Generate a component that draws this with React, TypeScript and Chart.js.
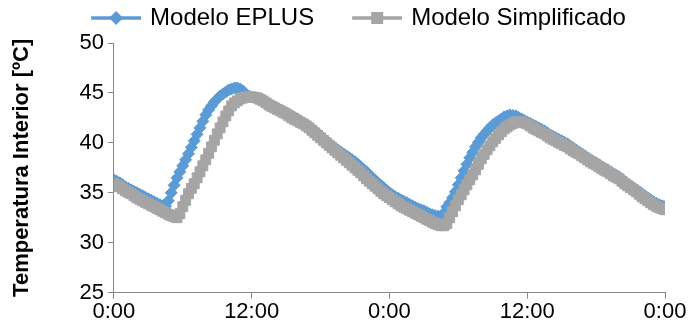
import React, { useEffect, useRef } from 'react';
import { Chart, registerables } from 'chart.js';

Chart.register(...registerables);

// Quarter-hourly samples over 48 h (0:00 .. 0:00 two days later)
const seriesNames = ['Modelo EPLUS', 'Modelo Simplificado'];

const eplus = [
  36.3, 36.15, 36.0, 35.8,
  35.6, 35.45, 35.3, 35.15,
  35.0, 34.85, 34.7, 34.55,
  34.4, 34.25, 34.1, 33.95,
  33.8, 33.7, 33.65, 34.2,
  35.0, 35.75, 36.5, 37.1,
  37.7, 38.3, 38.9, 39.55,
  40.2, 40.85, 41.5, 42.15,
  42.8, 43.3, 43.7, 44.1,
  44.4, 44.7, 44.9, 45.1,
  45.3, 45.4, 45.5, 45.5,
  45.4, 45.2, 44.9, 44.7,
  44.6, 44.55, 44.5, 44.4,
  44.3, 44.1, 43.9, 43.75,
  43.6, 43.45, 43.3, 43.15,
  43.0, 42.85, 42.7, 42.55,
  42.4, 42.2, 42.0, 41.8,
  41.6, 41.4, 41.2, 40.95,
  40.7, 40.45, 40.2, 39.95,
  39.7, 39.5, 39.3, 39.1,
  38.9, 38.7, 38.5, 38.3,
  38.1, 37.85, 37.6, 37.35,
  37.1, 36.8, 36.5, 36.25,
  36.0, 35.75, 35.5, 35.25,
  35.0, 34.8, 34.6, 34.45,
  34.3, 34.15, 34.0, 33.85,
  33.7, 33.55, 33.4, 33.3,
  33.2, 33.05, 32.9, 32.8,
  32.7, 32.65, 32.6, 33.0,
  33.6, 34.0, 34.5, 35.1,
  35.8, 36.5, 37.2, 37.85,
  38.5, 39.05, 39.6, 40.05,
  40.5, 40.85, 41.2, 41.5,
  41.8, 42.0, 42.2, 42.4,
  42.6, 42.7, 42.8, 42.75,
  42.7, 42.55, 42.4, 42.25,
  42.1, 41.95, 41.8, 41.65,
  41.5, 41.35, 41.2, 41.0,
  40.8, 40.65, 40.5, 40.35,
  40.2, 40.05, 39.9, 39.7,
  39.5, 39.3, 39.1, 38.9,
  38.7, 38.5, 38.3, 38.15,
  38.0, 37.8, 37.6, 37.45,
  37.3, 37.1, 36.9, 36.75,
  36.6, 36.35, 36.1, 35.9,
  35.7, 35.5, 35.3, 35.1,
  34.9, 34.7, 34.5, 34.3,
  34.1, 33.95, 33.8, 33.7,
  33.6,
];

const simplificado = [
  35.9, 35.75, 35.6, 35.4,
  35.2, 35.05, 34.9, 34.7,
  34.5, 34.35, 34.2, 34.05,
  33.9, 33.75, 33.6, 33.45,
  33.3, 33.15, 33.0, 32.85,
  32.7, 32.6, 32.5, 32.9,
  33.6, 34.25, 34.9, 35.45,
  35.9, 36.5, 37.1, 37.7,
  38.3, 38.95, 39.6, 40.25,
  40.9, 41.5, 42.1, 42.7,
  43.2, 43.7, 44.0, 44.2,
  44.4, 44.5, 44.6, 44.6,
  44.6, 44.55, 44.5, 44.35,
  44.2, 44.0, 43.8, 43.65,
  43.5, 43.35, 43.2, 43.05,
  42.9, 42.7, 42.5, 42.35,
  42.2, 42.05, 41.9, 41.7,
  41.5, 41.25, 41.0, 40.75,
  40.5, 40.25, 40.0, 39.75,
  39.5, 39.25, 39.0, 38.75,
  38.5, 38.25, 38.0, 37.75,
  37.5, 37.25, 37.0, 36.7,
  36.4, 36.15, 35.9, 35.65,
  35.4, 35.15, 34.9, 34.7,
  34.5, 34.3, 34.1, 33.9,
  33.7, 33.55, 33.4, 33.25,
  33.1, 32.95, 32.8, 32.65,
  32.5, 32.35, 32.2, 32.05,
  31.9, 31.8, 31.7, 31.7,
  31.9, 32.5, 33.1, 33.7,
  34.3, 34.8, 35.3, 35.8,
  36.3, 36.8, 37.3, 37.85,
  38.4, 38.85, 39.3, 39.7,
  40.1, 40.45, 40.8, 41.1,
  41.4, 41.6, 41.8, 41.95,
  42.1, 42.1, 42.1, 42.0,
  41.9, 41.7, 41.5, 41.35,
  41.2, 41.05, 40.9, 40.7,
  40.5, 40.35, 40.2, 40.05,
  39.9, 39.75, 39.6, 39.4,
  39.2, 39.05, 38.9, 38.7,
  38.5, 38.3, 38.1, 37.95,
  37.8, 37.6, 37.4, 37.25,
  37.1, 36.9, 36.7, 36.55,
  36.4, 36.15, 35.9, 35.7,
  35.5, 35.3, 35.1, 34.85,
  34.6, 34.4, 34.2, 34.0,
  33.8, 33.65, 33.5, 33.4,
  33.3,
];

// time of each sample in hours (15-minute steps)
const hours = eplus.map((_, i) => i * 0.25);

const xTickLabels = ['0:00', '12:00', '0:00', '12:00', '0:00'];
const xTickStepHours = 12;
const yMin = 25;
const yMax = 50;
const yStep = 5;
const yTitle = 'Temperatura Interior [ºC]';

const BLUE = '#5B9BD5';
const GRAY = '#A5A5A5';
const AXIS = '#868686';
const FONT = "'Liberation Sans', Arial, sans-serif";

const LEGEND_BOX = 79;
const LEGEND_PAD = 6;
const LEGEND_SHIFT = 10;
const LEGEND_EXTRA = 3;

function makeLegendImage(color: string, kind: 'diamond' | 'square') {
  const c = document.createElement('canvas');
  c.width = 85;
  c.height = 16;
  const g = c.getContext('2d')!;
  g.strokeStyle = color;
  g.lineWidth = 3.5;
  g.beginPath();
  g.moveTo(35, 8);
  g.lineTo(85, 8);
  g.stroke();
  g.fillStyle = color;
  const cx = 60;
  const cy = 8;
  g.beginPath();
  if (kind === 'diamond') {
    g.moveTo(cx - 7, cy);
    g.lineTo(cx, cy - 7);
    g.lineTo(cx + 7, cy);
    g.lineTo(cx, cy + 7);
    g.closePath();
  } else {
    g.rect(cx - 6, cy - 6, 12, 12);
  }
  g.fill();
  return c;
}

export default function App() {
  const ref = useRef<HTMLCanvasElement>(null);

  useEffect(() => {
    const canvas = ref.current;
    if (!canvas) return;
    const images = [makeLegendImage(BLUE, 'diamond'), makeLegendImage(GRAY, 'square')];

    const legendTweak = {
      id: 'legendTweak',
      beforeLayout(chart: any) {
        const lg = chart.legend;
        if (lg && !lg.__patched) {
          const orig = lg.fit.bind(lg);
          lg.fit = function () {
            orig();
            this.height += LEGEND_EXTRA;
          };
          lg.__patched = true;
        }
      },
      afterLayout(chart: any) {
        const lg = chart.legend;
        if (lg) {
          lg.left += LEGEND_SHIFT;
          lg.right += LEGEND_SHIFT;
        }
      },
    };

    const chart = new Chart(canvas, {
      type: 'line',
      data: {
        datasets: [
          {
            label: seriesNames[0],
            data: eplus.map((y, i) => ({ x: hours[i], y })),
            borderColor: BLUE,
            backgroundColor: BLUE,
            borderWidth: 3,
            pointStyle: 'rectRot',
            pointRadius: 6,
            pointBorderWidth: 1,
            pointBackgroundColor: BLUE,
            pointBorderColor: BLUE,
            tension: 0,
            order: 2,
          },
          {
            label: seriesNames[1],
            data: simplificado.map((y, i) => ({ x: hours[i], y })),
            borderColor: GRAY,
            backgroundColor: GRAY,
            borderWidth: 3,
            pointStyle: 'rect',
            pointRadius: 7,
            pointBorderWidth: 1,
            pointBackgroundColor: GRAY,
            pointBorderColor: GRAY,
            tension: 0,
            order: 1,
          },
        ],
      },
      options: {
        responsive: false,
        animation: false,
        layout: { padding: { left: 0, right: 24, top: 0, bottom: 7 } },
        plugins: {
          tooltip: { enabled: false },
          legend: {
            display: true,
            position: 'top',
            labels: {
              usePointStyle: true,
              pointStyleWidth: LEGEND_BOX,
              padding: LEGEND_PAD,
              color: '#000',
              font: { family: FONT, size: 24 },
              generateLabels: (ch: any) =>
                ch.data.datasets.map((ds: any, i: number) => ({
                  text: ds.label,
                  datasetIndex: i,
                  pointStyle: images[i],
                  fillStyle: ds.borderColor,
                  strokeStyle: ds.borderColor,
                  lineWidth: 0,
                  hidden: false,
                  fontColor: '#000',
                })),
            },
          },
        },
        scales: {
          x: {
            type: 'linear',
            min: 0,
            max: hours[hours.length - 1],
            grid: { drawOnChartArea: false, tickLength: 6, color: AXIS, tickColor: AXIS },
            border: { color: AXIS, width: 1 },
            ticks: {
              stepSize: xTickStepHours,
              autoSkip: false,
              maxRotation: 0,
              padding: 0,
              color: '#000',
              font: { family: FONT, size: 22 },
              callback: (v: any) => xTickLabels[Math.round(Number(v) / xTickStepHours)],
            },
          },
          y: {
            min: yMin,
            max: yMax,
            grid: { drawOnChartArea: false, tickLength: 6, color: AXIS, tickColor: AXIS },
            border: { color: AXIS, width: 1 },
            ticks: {
              stepSize: yStep,
              padding: 4,
              color: '#000',
              font: { family: FONT, size: 22 },
            },
            title: {
              display: true,
              text: yTitle,
              color: '#000',
              font: { family: FONT, size: 22, weight: 'bold' },
              padding: { top: 9, bottom: 40 },
            },
          },
        },
      },
      plugins: [legendTweak],
    });

    return () => chart.destroy();
  }, []);

  return (
    <div style={{ position: 'fixed', left: 0, top: 0, width: 689, height: 332, background: '#fff' }}>
      <canvas ref={ref} width={689} height={332} style={{ display: 'block' }} />
    </div>
  );
}
